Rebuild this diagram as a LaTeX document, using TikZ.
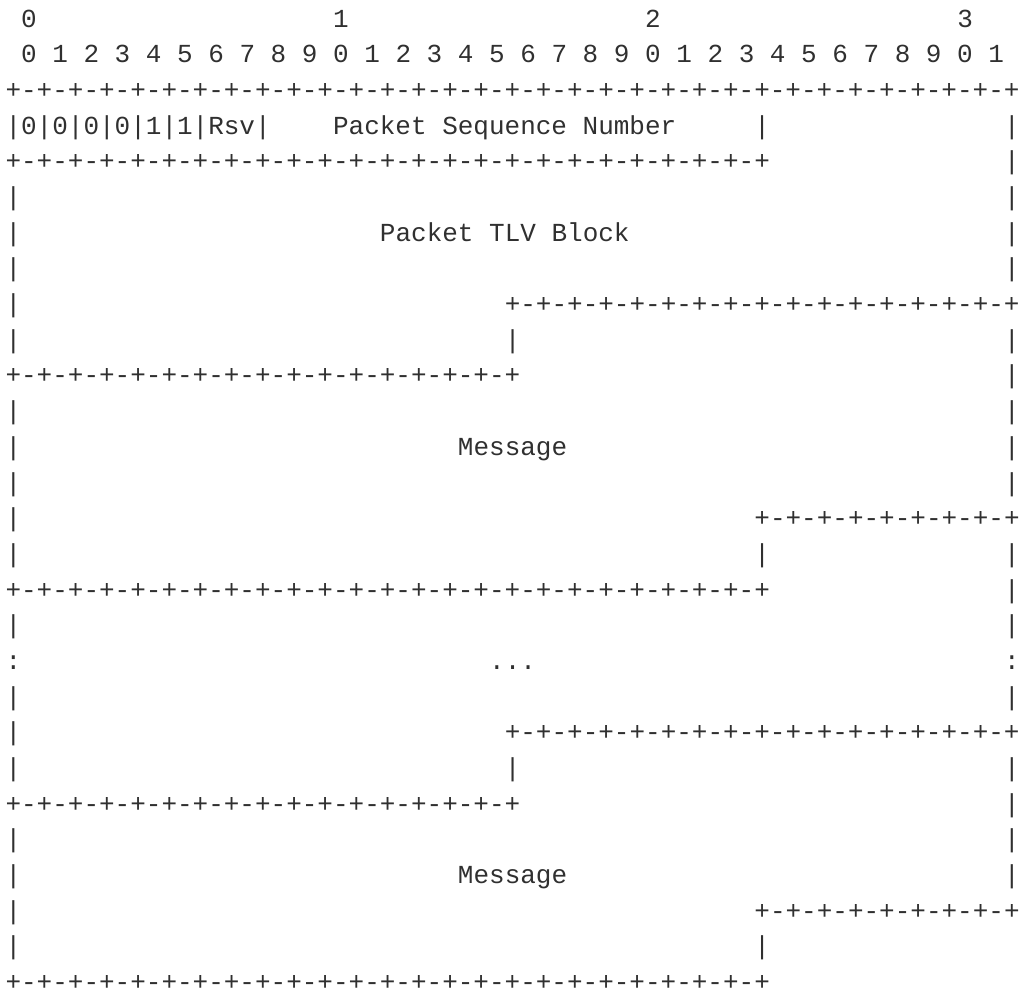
\documentclass[tikz,border=0pt]{standalone}
\usepackage{fontspec}
\newfontfamily\asciifont{Liberation Mono}
\definecolor{ink}{HTML}{303030}
\ExplSyntaxOn
\NewDocumentCommand\rep{mm}{\prg_replicate:nn{#1}{#2}}
\ExplSyntaxOff
\newcommand\row[2]{\node[ln] (r#1) at (5.5pt,{-27.2pt-(#1-1)*35.68pt}) {#2};}
\begin{document}
\begin{tikzpicture}[x=1pt,y=1pt,
  ln/.style={anchor=base west,inner sep=0pt,outer sep=0pt,text=ink,text depth=0pt,
    font=\asciifont\fontsize{26}{35.68}\selectfont\frenchspacing}]
\useasboundingbox (0,0) rectangle (1021,-992);
\row{1}{~0\rep{19}{~}1\rep{19}{~}2\rep{19}{~}3}
\row{2}{~0~1~2~3~4~5~6~7~8~9~0~1~2~3~4~5~6~7~8~9~0~1~2~3~4~5~6~7~8~9~0~1}
\row{3}{\rep{32}{+-}+}
\row{4}{|0|0|0|0|1|1|Rsv|\rep{4}{~}Packet~Sequence~Number\rep{5}{~}|\rep{15}{~}|}
\row{5}{\rep{24}{+-}+\rep{15}{~}|}
\row{6}{|\rep{63}{~}|}
\row{7}{|\rep{23}{~}Packet~TLV~Block\rep{24}{~}|}
\row{8}{|\rep{63}{~}|}
\row{9}{|\rep{31}{~}\rep{16}{+-}+}
\row{10}{|\rep{31}{~}|\rep{31}{~}|}
\row{11}{\rep{16}{+-}+\rep{31}{~}|}
\row{12}{|\rep{63}{~}|}
\row{13}{|\rep{28}{~}Message\rep{28}{~}|}
\row{14}{|\rep{63}{~}|}
\row{15}{|\rep{47}{~}\rep{8}{+-}+}
\row{16}{|\rep{47}{~}|\rep{15}{~}|}
\row{17}{\rep{24}{+-}+\rep{15}{~}|}
\row{18}{|\rep{63}{~}|}
\row{19}{:\rep{30}{~}...\rep{30}{~}:}
\row{20}{|\rep{63}{~}|}
\row{21}{|\rep{31}{~}\rep{16}{+-}+}
\row{22}{|\rep{31}{~}|\rep{31}{~}|}
\row{23}{\rep{16}{+-}+\rep{31}{~}|}
\row{24}{|\rep{63}{~}|}
\row{25}{|\rep{28}{~}Message\rep{28}{~}|}
\row{26}{|\rep{47}{~}\rep{8}{+-}+}
\row{27}{|\rep{47}{~}|}
\row{28}{\rep{24}{+-}+}
\end{tikzpicture}
\end{document}
